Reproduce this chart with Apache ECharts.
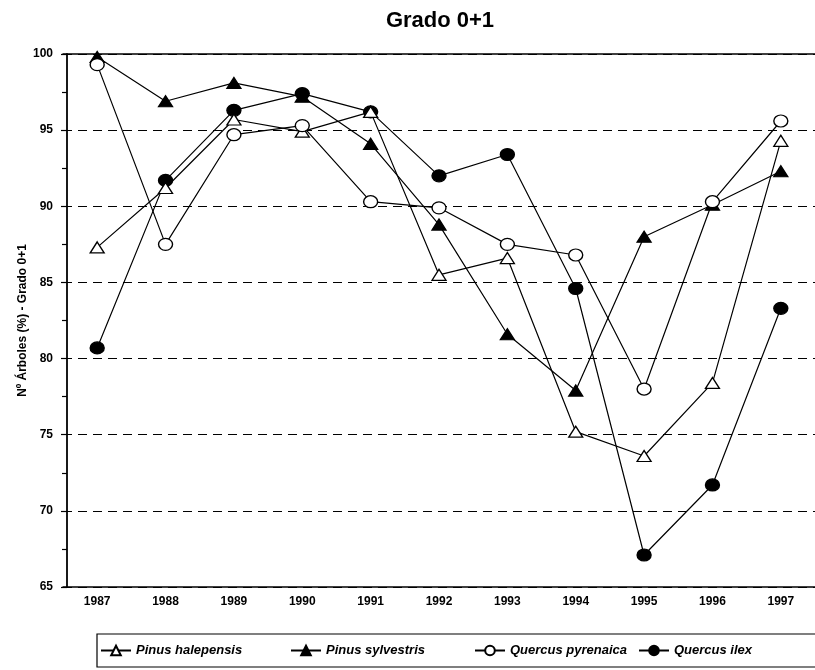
<!DOCTYPE html>
<html>
<head>
<meta charset="utf-8">
<script src="https://cdn.jsdelivr.net/npm/echarts@6/dist/echarts.min.js"></script>
<style>
  html, body { margin: 0; padding: 0; background: #fff; }
  #chart { width: 815px; height: 670px; }
</style>
</head>
<body>
<div id="chart"></div>
<script>
// Survey years on the horizontal axis
const years = ['1987', '1988', '1989', '1990', '1991', '1992', '1993', '1994', '1995', '1996', '1997'];

// Percentage of trees in defoliation class 0+1, per species
const pinusHalepensis  = [87.3, 91.2, 95.7, 94.9, 96.2, 85.5, 86.6, 75.2, 73.6, 78.4, 94.3];
const pinusSylvestris  = [99.8, 96.9, 98.1, 97.2, 94.1, 88.8, 81.6, 77.9, 88.0, 90.1, 92.3];
const quercusPyrenaica = [99.3, 87.5, 94.7, 95.3, 90.3, 89.9, 87.5, 86.8, 78.0, 90.3, 95.6];
const quercusIlex      = [80.7, 91.7, 96.3, 97.4, 96.2, 92.0, 93.4, 84.6, 67.1, 71.7, 83.3];

const seriesNames = ['Pinus halepensis', 'Pinus sylvestris', 'Quercus pyrenaica', 'Quercus ilex'];

const FONT = '"Liberation Sans", Arial, sans-serif';

function lineSeries(name, data, symbol, filled, size) {
  return {
    name: name,
    type: 'line',
    data: data,
    symbol: symbol,
    symbolSize: size,
    showAllSymbol: true,
    lineStyle: { color: '#000', width: 1.2 },
    itemStyle: { color: filled ? '#000' : '#fff', borderColor: '#000', borderWidth: 1.3 },
    emphasis: { disabled: true },
    z: filled ? 3 : 4
  };
}

function legendFor(name, left) {
  return {
    data: [name],
    left: left,
    top: 644,
    itemWidth: 30,
    itemHeight: 12,
    itemGap: 6,
    padding: 0,
    selectedMode: false,
    textStyle: { fontFamily: FONT, fontSize: 13, fontStyle: 'italic', fontWeight: 'bold', color: '#000' }
  };
}

const chart = echarts.init(document.getElementById('chart'), null, { renderer: 'canvas' });

chart.setOption({
  animation: false,
  backgroundColor: '#fff',
  title: {
    text: 'Grado 0+1',
    left: 435,
    textAlign: 'center',
    top: 5,
    textStyle: { fontFamily: FONT, fontSize: 22, fontWeight: 'bold', color: '#000' }
  },
  grid: { left: 63, right: -3, top: 54, bottom: 83 },
  xAxis: [{
    type: 'category',
    data: years,
    boundaryGap: true,
    axisLine: { lineStyle: { color: '#000', width: 1.5 } },
    axisTick: { alignWithLabel: true, length: 6, lineStyle: { color: '#000', width: 1.2 } },
    axisLabel: { margin: 9, fontFamily: FONT, fontSize: 12, fontWeight: 'bold', color: '#000' },
    splitLine: { show: false }
  }, {
    type: 'category',
    data: years,
    position: 'top',
    axisLine: { lineStyle: { color: '#000', width: 1.5 } },
    axisTick: { show: false },
    axisLabel: { show: false }
  }],
  yAxis: {
    type: 'value',
    min: 65,
    max: 100,
    interval: 5,
    offset: -4,
    name: 'Nº Árboles (%) - Grado 0+1',
    nameLocation: 'middle',
    nameGap: 38,
    nameMoveOverlap: false,
    nameRotate: 90,
    nameTextStyle: { fontFamily: FONT, fontSize: 12, fontWeight: 'bold', color: '#000' },
    axisLine: { show: true, lineStyle: { color: '#000', width: 1.8 } },
    axisTick: { show: true, length: 6, lineStyle: { color: '#000', width: 1.2 } },
    minorTick: { show: true, splitNumber: 2, length: 5, lineStyle: { color: '#000', width: 1.2 } },
    axisLabel: { margin: 14, fontFamily: FONT, fontSize: 12, fontWeight: 'bold', color: '#000' },
    splitLine: { show: true, lineStyle: { color: '#000', width: 1.2, type: [9, 6] } }
  },
  legend: [
    legendFor(seriesNames[0], 100),
    legendFor(seriesNames[1], 290),
    legendFor(seriesNames[2], 474),
    legendFor(seriesNames[3], 638)
  ],
  graphic: [{
    type: 'rect',
    shape: { x: 97, y: 634, width: 740, height: 33 },
    style: { fill: 'none', stroke: '#000', lineWidth: 1.2 },
    silent: true
  }],
  series: [
    lineSeries(seriesNames[0], pinusHalepensis, 'triangle', false, [14, 11]),
    lineSeries(seriesNames[1], pinusSylvestris, 'triangle', true, [14, 11]),
    lineSeries(seriesNames[2], quercusPyrenaica, 'circle', false, [14, 12]),
    lineSeries(seriesNames[3], quercusIlex, 'circle', true, [14, 12])
  ]
});
</script>
</body>
</html>
